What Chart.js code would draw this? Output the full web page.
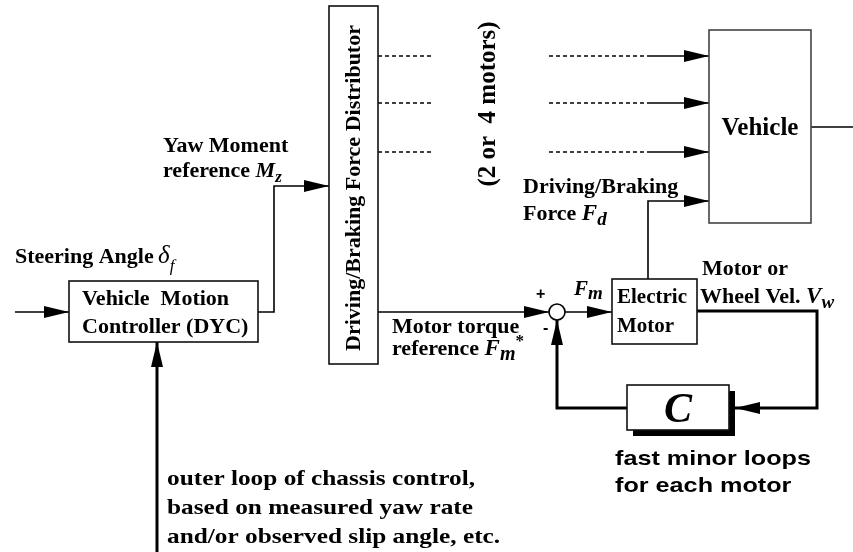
<!DOCTYPE html>
<html lang="en">
<head>
  <meta charset="UTF-8">
  <title>Direct Yaw-moment Control - block diagram</title>
  <script src="https://cdn.jsdelivr.net/npm/chart.js"></script>
  <style>
    html, body { margin: 0; padding: 0; background: #fff; }
    canvas { display: block; }
  </style>
</head>
<body>
  <canvas id="diagram" width="853" height="552"></canvas>

  <script>
    // ---- content: block names and signal names ----
    const blockNames = ['controller', 'distributor', 'vehicle', 'motor', 'minorLoop'];
    const blockText = [
      ['Vehicle  Motion', 'Controller (DYC)'],
      ['Driving/Braking Force Distributor'],
      ['Vehicle'],
      ['Electric', 'Motor'],
      ['C']
    ];
    const motorCountNote = '(2 or  4 motors)';
    const outerLoopNote = ['outer loop of chassis control,', 'based on measured yaw rate', 'and/or observed slip angle, etc.'];
    const minorLoopNote = ['fast minor loops', 'for each motor'];

    // ---- layout (diagram units, same as the axes 0..853 / 0..552) ----
    const blockX0 = [69, 329, 709, 612, 627];
    const blockY0 = [281, 6, 30, 279, 385];
    const blockX1 = [258, 378, 811, 697, 729];
    const blockY1 = [342, 364, 223, 344, 430];
    const sumNode = { x: 557, y: 312, r: 8 };

    // wires: polylines, arrow at last point
    const wires = [
      { pts: [[15, 312], [69, 312]], arrow: true, w: 1.6 },
      { pts: [[258, 312], [274, 312], [274, 186], [329, 186]], arrow: true, w: 1.6 },
      { pts: [[157, 552], [157, 342]], arrow: true, w: 3 },
      { pts: [[378, 312], [549, 312]], arrow: true, w: 1.6 },
      { pts: [[565, 312], [612, 312]], arrow: true, w: 1.6 },
      { pts: [[648, 279], [648, 201], [709, 201]], arrow: true, w: 1.6 },
      { pts: [[811, 127], [853, 127]], arrow: false, w: 1.6 },
      { pts: [[697, 311], [817, 311], [817, 408], [735, 408]], arrow: true, w: 3 },
      { pts: [[627, 408], [557, 408], [557, 320]], arrow: true, w: 3 }
    ];
    // the three distributor outputs (dotted, then solid into the vehicle)
    const channelY = [56, 103, 152];
    channelY.forEach(y => {
      wires.push({ pts: [[378, y], [433, y]], dash: [4, 3], w: 1.4 });
      wires.push({ pts: [[549, y], [648, y]], dash: [4, 3], w: 1.4 });
      wires.push({ pts: [[648, y], [709, y]], arrow: true, w: 1.6 });
    });

    const SERIF = '"Liberation Serif", "Times New Roman", serif';
    const SANS = '"Liberation Sans", Arial, sans-serif';

    // labels: x, y = baseline start; segments of rich text
    const labels = [
      { x: 163, y: 152, segs: [{ t: 'Yaw Moment' }] },
      { x: 163, y: 177, segs: [{ t: 'reference ' }, { t: 'M', i: true }, { t: 'z', i: true, s: 17, dy: 5 }] },
      { x: 15, y: 263, segs: [{ t: 'Steering Angle\u2009' }, { t: '\u03B4', i: true, b: false, s: 25 }, { t: 'f', i: true, b: false, s: 17, dy: 8 }] },
      { x: 82, y: 305, segs: [{ t: blockText[0][0] }] },
      { x: 82, y: 333, segs: [{ t: blockText[0][1] }] },
      { x: 360, y: 188, rot: -Math.PI / 2, align: 'center', segs: [{ t: blockText[1][0] }] },
      { x: 495, y: 104, rot: -Math.PI / 2, align: 'center', segs: [{ t: motorCountNote, s: 25 }] },
      { x: 760, y: 135, align: 'center', segs: [{ t: blockText[2][0], s: 25 }] },
      { x: 523, y: 193, segs: [{ t: 'Driving/Braking' }] },
      { x: 523, y: 220, segs: [{ t: 'Force ' }, { t: 'F', i: true, s: 23 }, { t: 'd', i: true, s: 19, dy: 5 }] },
      { x: 702, y: 275, segs: [{ t: 'Motor or' }] },
      { x: 700, y: 303, segs: [{ t: 'Wheel Vel. ' }, { t: 'V', i: true, s: 23 }, { t: 'w', i: true, s: 19, dy: 5 }] },
      { x: 536, y: 299, segs: [{ t: '+', f: SANS, s: 16 }] },
      { x: 543, y: 333, segs: [{ t: '-', f: SANS, s: 16 }] },
      { x: 574, y: 295, segs: [{ t: 'F', i: true, s: 21 }, { t: 'm', i: true, s: 19, dy: 4 }] },
      { x: 617, y: 303, segs: [{ t: blockText[3][0], s: 21 }] },
      { x: 617, y: 332, segs: [{ t: blockText[3][1], s: 21 }] },
      { x: 392, y: 333, segs: [{ t: 'Motor torque' }] },
      { x: 392, y: 355, segs: [{ t: 'reference ' }, { t: 'F', i: true, s: 23 }, { t: 'm', i: true, s: 20, dy: 5 }, { t: '*', s: 17, dy: -9 }] },
      { x: 678, y: 422, align: 'center', segs: [{ t: blockText[4][0], i: true, s: 42 }] },
      { x: 615, y: 465, sx: 1.2, segs: [{ t: minorLoopNote[0], f: SANS, s: 21 }] },
      { x: 615, y: 492, sx: 1.2, segs: [{ t: minorLoopNote[1], f: SANS, s: 21 }] },
      { x: 167, y: 485, sx: 1.15, segs: [{ t: outerLoopNote[0] }] },
      { x: 167, y: 514, sx: 1.15, segs: [{ t: outerLoopNote[1] }] },
      { x: 167, y: 543, sx: 1.15, segs: [{ t: outerLoopNote[2] }] }
    ];

    function fontOf(seg) {
      const bold = seg.b === false ? '' : 'bold ';
      const ital = seg.i ? 'italic ' : '';
      return ital + bold + (seg.s || 22) + 'px ' + (seg.f || SERIF);
    }

    function drawRich(ctx, px, py, item) {
      ctx.save();
      ctx.translate(px, py);
      if (item.rot) ctx.rotate(item.rot);
      ctx.scale(item.sx || 1, 1);
      let total = 0;
      item.segs.forEach(s => { ctx.font = fontOf(s); total += ctx.measureText(s.t).width; });
      let cx = item.align === 'center' ? -total / 2 : 0;
      ctx.fillStyle = '#000';
      ctx.textBaseline = 'alphabetic';
      ctx.textAlign = 'left';
      item.segs.forEach(s => {
        ctx.font = fontOf(s);
        ctx.fillText(s.t, cx, s.dy || 0);
        cx += ctx.measureText(s.t).width;
      });
      ctx.restore();
    }

    // boxes, node, arrowheads and text are drawn after the wires
    const diagramPlugin = {
      id: 'diagram',
      afterDatasetsDraw(chart) {
        const ctx = chart.ctx;
        const xs = chart.scales.x, ys = chart.scales.y;
        const X = v => xs.getPixelForValue(v);
        const Y = v => ys.getPixelForValue(v);

        // arrowheads
        wires.forEach(w => {
          if (!w.arrow) return;
          const n = w.pts.length;
          const [ax, ay] = w.pts[n - 2], [bx, by] = w.pts[n - 1];
          const tx = X(bx), ty = Y(by);
          const ang = Math.atan2(ty - Y(ay), tx - X(ax));
          const len = 25, half = 6;
          ctx.save();
          ctx.translate(tx, ty);
          ctx.rotate(ang);
          ctx.beginPath();
          ctx.moveTo(0, 0);
          ctx.lineTo(-len, -half);
          ctx.lineTo(-len, half);
          ctx.closePath();
          ctx.fillStyle = '#000';
          ctx.fill();
          ctx.restore();
        });

        // blocks
        blockNames.forEach((name, i) => {
          const x0 = X(blockX0[i]), y0 = Y(blockY0[i]);
          const w = X(blockX1[i]) - x0, h = Y(blockY1[i]) - y0;
          ctx.save();
          if (name === 'minorLoop') {
            ctx.fillStyle = '#000';
            ctx.fillRect(x0 + 6, y0 + 6, w, h);
            ctx.fillStyle = '#fff';
            ctx.fillRect(x0, y0, w, h);
          }
          ctx.strokeStyle = name === 'vehicle' ? '#444' : '#111';
          ctx.lineWidth = 1.6;
          ctx.strokeRect(x0, y0, w, h);
          ctx.restore();
        });

        // summing junction
        ctx.save();
        ctx.beginPath();
        ctx.arc(X(sumNode.x), Y(sumNode.y), sumNode.r, 0, Math.PI * 2);
        ctx.fillStyle = '#fff';
        ctx.fill();
        ctx.lineWidth = 1.6;
        ctx.strokeStyle = '#000';
        ctx.stroke();
        ctx.restore();

        labels.forEach(l => drawRich(ctx, X(l.x), Y(l.y), l));
      }
    };

    new Chart(document.getElementById('diagram').getContext('2d'), {
      type: 'scatter',
      data: {
        datasets: wires.map(w => ({
          data: w.pts.map(p => ({ x: p[0], y: p[1] })),
          showLine: true,
          borderColor: '#000',
          borderWidth: w.w,
          borderDash: w.dash || [],
          borderCapStyle: 'butt',
          borderJoinStyle: 'miter',
          pointRadius: 0,
          tension: 0,
          fill: false
        }))
      },
      options: {
        responsive: false,
        animation: false,
        layout: { padding: 0 },
        plugins: { legend: { display: false }, tooltip: { enabled: false } },
        scales: {
          x: { type: 'linear', min: 0, max: 853, display: false },
          y: { type: 'linear', min: 0, max: 552, reverse: true, display: false }
        }
      },
      plugins: [diagramPlugin]
    });
  </script>
</body>
</html>
